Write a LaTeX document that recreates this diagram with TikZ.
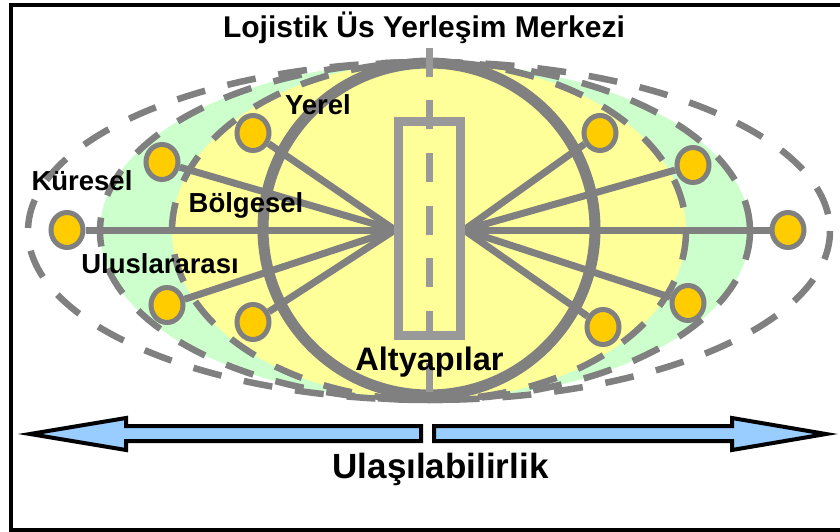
\documentclass[tikz,border=0pt]{standalone}
\usepackage{fontspec}
\setmainfont{Liberation Sans}
\usetikzlibrary{shapes.geometric}
\definecolor{linegray}{HTML}{808080}
\definecolor{boxgray}{HTML}{999999}
\definecolor{localyellow}{HTML}{FFFF99}
\definecolor{regiongreen}{HTML}{CCFFCC}
\definecolor{siteorange}{HTML}{FFCC00}
\definecolor{arrowblue}{HTML}{99CCFF}
\tikzset{%
  >=latex,
  zone line/.style={linegray,line width=6.5pt,dash pattern=on 29pt off 23pt},
  spoke/.style={linegray,line width=7pt},
  site/.style={ellipse,draw=linegray,fill=siteorange,line width=5pt,
    minimum width=32pt,minimum height=35pt,inner sep=0pt},
  level/.style={font=\fontsize{27.5}{31}\selectfont\bfseries,anchor=base,inner sep=0pt},
  access arrow/.style={draw=black,fill=arrowblue,line width=4pt,line join=miter}
}
\begin{document}
\begin{tikzpicture}[x=1pt,y=-1pt]
\def\Cx{429} % centre of the zones
\def\Cy{231}
\def\Ry{169} % common half height
\useasboundingbox (0,0) rectangle (840,532);
\draw[line width=4pt] (845,5) -- (11,5) -- (11,530) -- (845,530);

% zones
\fill[regiongreen] (425,\Cy) ellipse [x radius=325,y radius=\Ry];
\fill[localyellow] (\Cx,\Cy) ellipse [x radius=257,y radius=\Ry];
\draw[zone line] (\Cx,\Cy) ellipse [x radius=401,y radius=\Ry];
\draw[zone line] (425,\Cy) ellipse [x radius=325,y radius=\Ry];
\draw[zone line] (\Cx,\Cy) ellipse [x radius=257,y radius=\Ry];
\draw[linegray,line width=11pt] (\Cx,229) circle [radius=166];

% sites
\node[site] (kw) at (67,230) {};
\node[site] (bw) at (162,162) {};
\node[site] (yw) at (253,133) {};
\node[site] (uw) at (167,305) {};
\node[site] (lw) at (253,322) {};
\node[site] (ye) at (600,133) {};
\node[site] (be) at (693,165) {};
\node[site] (ke) at (788,230) {};
\node[site] (le) at (603,327) {};
\node[site] (ue) at (688,303) {};

\coordinate (hubw) at (395,230);
\coordinate (hube) at (464,230);
\foreach \s in {kw,bw,yw,uw,lw}
  \draw[spoke] (hubw) -- (\s);
\foreach \s in {ye,be,ke,le,ue}
  \draw[spoke] (hube) -- (\s);

% base
\node[draw=boxgray,line width=9pt,minimum width=62pt,minimum height=213pt,inner sep=0pt]
  (base) at (429.5,228.5) {};
\draw[boxgray,line width=7pt,dash pattern=on 29pt off 23.5pt] (429.5,48) -- (429.5,397);

% texts
\node[font=\fontsize{30}{34}\selectfont\bfseries,anchor=base,inner sep=0pt] (title) at (424,38) {Lojistik Üs Yerleşim Merkezi};
\node[level] (yerel) at (318,115) {Yerel};
\node[level] (kuresel) at (82,190) {Küresel};
\node[level] (bolgesel) at (246,212) {Bölgesel};
\node[level] (ulus) at (160,273) {Uluslararası};
\node[level,font=\fontsize{32.5}{36}\selectfont\bfseries] (altyapi) at (429.5,370) {Altyapılar};

% accessibility
\draw[access arrow] (421,426) -- (126,426) -- (126,418) -- (30,434) -- (126,450) -- (126,441) -- (421,441) -- cycle;
\draw[access arrow] (434,426) -- (732,426) -- (732,418) -- (826,434) -- (732,450) -- (732,441) -- (434,441) -- cycle;
\node[font=\fontsize{35}{40}\selectfont\bfseries,anchor=base,inner sep=0pt] (access) at (440.5,478) {Ulaşılabilirlik};
\end{tikzpicture}
\end{document}
